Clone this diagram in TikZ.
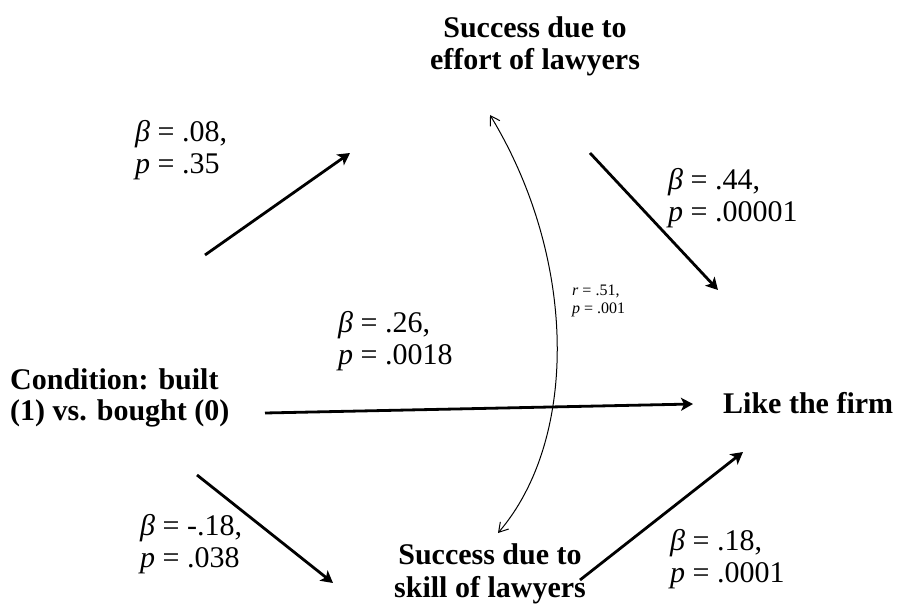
\documentclass[tikz,border=0pt]{standalone}
\usepackage{fontspec}
\setmainfont{Liberation Serif}
\usetikzlibrary{positioning,arrows.meta}

\begin{document}
\begin{tikzpicture}[x=1pt, y=-1pt, every node/.style={font=\fontsize{30}{32}\selectfont, inner sep=0pt}]
  \useasboundingbox (0,0) rectangle (897,604);

  \node[font=\bfseries\fontsize{30}{32}\selectfont, align=center] (effort) at (535,46) {Success due to\\effort of lawyers};
  \node[font=\bfseries\fontsize{30}{31}\selectfont, align=left, anchor=west] (cond) at (10,398) {Condition: built\\(1) vs. bought (0)};
  \node[font=\bfseries\fontsize{30}{32}\selectfont, anchor=west] (like) at (723,403) {Like the firm};
  \node[font=\bfseries\fontsize{30}{33}\selectfont, align=center] (skill) at (490,574) {Success due to\\skill of lawyers};

  \node[align=left, anchor=west] (b1) at (135,150) {\textit{β} = .08,\\\textit{p} = .35};
  \node[align=left, anchor=west] (b2) at (668,198) {\textit{β} = .44,\\\textit{p} = .00001};
  \node[align=left, anchor=west] (b3) at (338,341) {\textit{β} = .26,\\\textit{p} = .0018};
  \node[align=left, anchor=west] (b4) at (140,544) {\textit{β} = -.18,\\\textit{p} = .038};
  \node[align=left, anchor=west] (b5) at (670,559) {\textit{β} = .18,\\\textit{p} = .0001};
  \node[align=left, anchor=west, font=\fontsize{16}{18}\selectfont] (corr) at (572,301) {\textit{r} = .51,\\\textit{p} = .001};

  \coordinate (c1s) at (205,255);
  \coordinate (c1e) at (350,153);
  \coordinate (e1s) at (590,153);
  \coordinate (e1e) at (718,290);
  \coordinate (c0s) at (265,413);
  \coordinate (c0e) at (693,404);
  \coordinate (c2s) at (197,475);
  \coordinate (c2e) at (333,583);
  \coordinate (s1s) at (580,580);
  \coordinate (s1e) at (743,452);
  \coordinate (ctop) at (490,115);
  \coordinate (cbot) at (498,533);

  \draw[-{Stealth[length=12pt,width=13pt,inset=3pt]}, line width=2.8pt] (c1s) -- (c1e);
  \draw[-{Stealth[length=12pt,width=13pt,inset=3pt]}, line width=2.8pt] (e1s) -- (e1e);
  \draw[-{Stealth[length=12pt,width=13pt,inset=3pt]}, line width=2.8pt] (c0s) -- (c0e);
  \draw[-{Stealth[length=12pt,width=13pt,inset=3pt]}, line width=2.8pt] (c2s) -- (c2e);
  \draw[-{Stealth[length=12pt,width=13pt,inset=3pt]}, line width=2.8pt] (s1s) -- (s1e);
  \draw[{Straight Barb[length=9pt,width=11pt]}-{Straight Barb[length=9pt,width=11pt]}, line width=1pt] (ctop) .. controls (578,260) and (578,440) .. (cbot);
\end{tikzpicture}
\end{document}
